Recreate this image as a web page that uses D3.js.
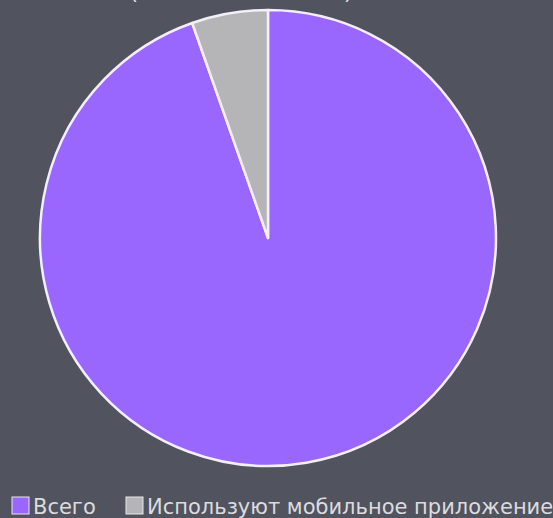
<!DOCTYPE html>
<html>
<head>
<meta charset="utf-8">
<script src="https://cdn.jsdelivr.net/npm/d3@7"></script>
<style>
	body { margin: 0; background: #51535f; }
	svg { display: block; }
</style>
</head>
<body>
<div id="chart-area"></div>
<script>
// SVG Size
let width  = 553,
	height = 518;

// data
let labels = ["Всего", "Используют мобильное приложение"];
let values = [1000, 57];
let colors = ["#9966fe", "#b5b5b7"];
let title  = "(в тысячах человек)";

let svg = d3.select("#chart-area")
	.append("svg")
	.attr("width", width)
	.attr("height", height);

// title, mostly cut off by the top edge (as in the original)
svg.append("text")
	.text(title)
	.attr("x", 241)
	.attr("y", -1)
	.style("font-family", "Verdana, 'DejaVu Sans', sans-serif")
	.style("font-size", "21px")
	.style("fill", "#e6e6e6")
	.style("text-anchor", "middle");

// pie
let radius = 228;
let pie = d3.pie().sort(null)(values);
let arc = d3.arc().innerRadius(0).outerRadius(radius);

let g = svg.append("g")
	.attr("transform", "translate(268,238)");

g.selectAll("path")
	.data(pie)
	.enter()
	.append("path")
	.attr("d", arc)
	.attr("fill", (d, i) => colors[i])
	.attr("stroke", "#f3eff8")
	.attr("stroke-width", 2.5)
	.attr("stroke-linejoin", "round");

// legend
let legendX = [12, 126];
let legend = svg.selectAll(".legend")
	.data(labels)
	.enter()
	.append("g")
	.attr("class", "legend")
	.attr("transform", (d, i) => "translate(" + legendX[i] + ",497)");

legend.append("rect")
	.attr("width", 17)
	.attr("height", 17)
	.attr("fill", (d, i) => colors[i])
	.attr("stroke", "#e8e8ea")
	.attr("stroke-width", 1);

legend.append("text")
	.text(d => d)
	.attr("x", 21)
	.attr("y", 17)
	.style("font-family", "Verdana, 'DejaVu Sans', sans-serif")
	.style("font-size", "21px")
	.style("fill", "#dcdcde");
</script>
</body>
</html>
